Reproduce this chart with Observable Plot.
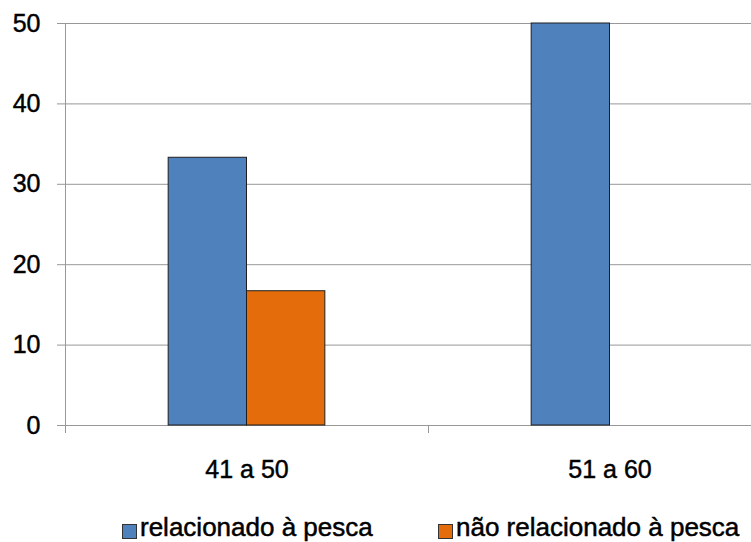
<!DOCTYPE html>
<html><head><meta charset="utf-8">
<script src="https://cdn.jsdelivr.net/npm/d3@7"></script>
<script src="https://cdn.jsdelivr.net/npm/@observablehq/plot@0.6"></script>
<style>
body{margin:0;background:#fff;font-family:"Liberation Sans",Arial,sans-serif;}
#wrap{position:relative;width:751px;height:542px;overflow:hidden;background:#fff}
.legend{position:relative;height:32px;}
.item{position:absolute;top:4px;display:flex;align-items:center;font-size:26px;line-height:26px;color:#000;white-space:nowrap;-webkit-text-stroke:0.5px #000}
.sw{display:inline-block;width:13px;height:13px;border:1px solid #333;margin-right:3px;position:relative;top:4px;-webkit-text-stroke:0}
svg text{stroke:#000;stroke-width:0.45px}
</style></head><body>
<div id="wrap"></div>
<script>
const categories = ["41 a 50", "51 a 60"];
const series = ["relacionado à pesca", "não relacionado à pesca"];
const relacionado = [33.3, 50];
const naoRelacionado = [16.7, 0];
const yTicks = [0, 10, 20, 30, 40, 50];
const colors = ["#4F81BD", "#E46C0A"];
const legendLeft = [122, 438];

const data = [];
categories.forEach((c, i) => {
  data.push({cat: c, serie: series[0], value: relacionado[i]});
  data.push({cat: c, serie: series[1], value: naoRelacionado[i]});
});

const W = 751, H = 510, mL = 65, mR = -40, mT = 23, mB = 85;
const bw = (W - mR - mL) / categories.length;   // facet band width
const gridColor = "#989898";
const noText = () => "";

const plot = Plot.plot({
  width: W, height: H, marginLeft: mL, marginRight: mR, marginTop: mT, marginBottom: mB,
  style: {fontFamily: "'Liberation Sans', Arial, sans-serif", fontSize: "25px", color: "#000", background: "#fff"},
  fx: {domain: categories, padding: 0, label: null, round: false},
  x: {domain: series, paddingInner: 0, paddingOuter: 1.317, round: false, axis: null},
  y: {domain: [0, 50], label: null},
  color: {domain: series, range: colors},
  marks: [
    Plot.gridY(yTicks, {stroke: gridColor, strokeOpacity: 1, strokeWidth: 1}),
    Plot.axisY(yTicks, {tickSize: 8, tickPadding: 17, stroke: gridColor, fill: "#000", label: null, fontSize: 25}),
    // vertical value-axis line at the left edge of the first category band
    Plot.ruleX([categories[0]], {fx: d => d, x: null, y1: 50, y2: 0, dx: -bw / 2, insetBottom: -8, stroke: gridColor}),
    // short category boundary ticks below the baseline
    Plot.axisFx(categories, {anchor: "bottom", tickSize: 8, tickFormat: noText, label: null, dx: -bw / 2, stroke: gridColor, strokeOpacity: 1}),
    Plot.barY(data, {filter: d => d.value > 0, fx: "cat", x: "serie", y: "value", fill: "serie", stroke: "#1e1e1e", strokeWidth: 1}),
    Plot.axisFx({anchor: "bottom", tickSize: 0, tickPadding: 35, label: null, fontSize: 25, fill: "#000"})
  ]
});

const wrap = document.getElementById("wrap");
wrap.appendChild(plot);
const legend = document.createElement("div");
legend.className = "legend";
series.forEach((s, i) => {
  const item = document.createElement("div");
  item.className = "item";
  item.style.left = legendLeft[i] + "px";
  const sw = document.createElement("span");
  sw.className = "sw";
  sw.style.background = colors[i];
  item.appendChild(sw);
  item.appendChild(document.createTextNode(s));
  legend.appendChild(item);
});
wrap.appendChild(legend);
</script>
</body></html>
